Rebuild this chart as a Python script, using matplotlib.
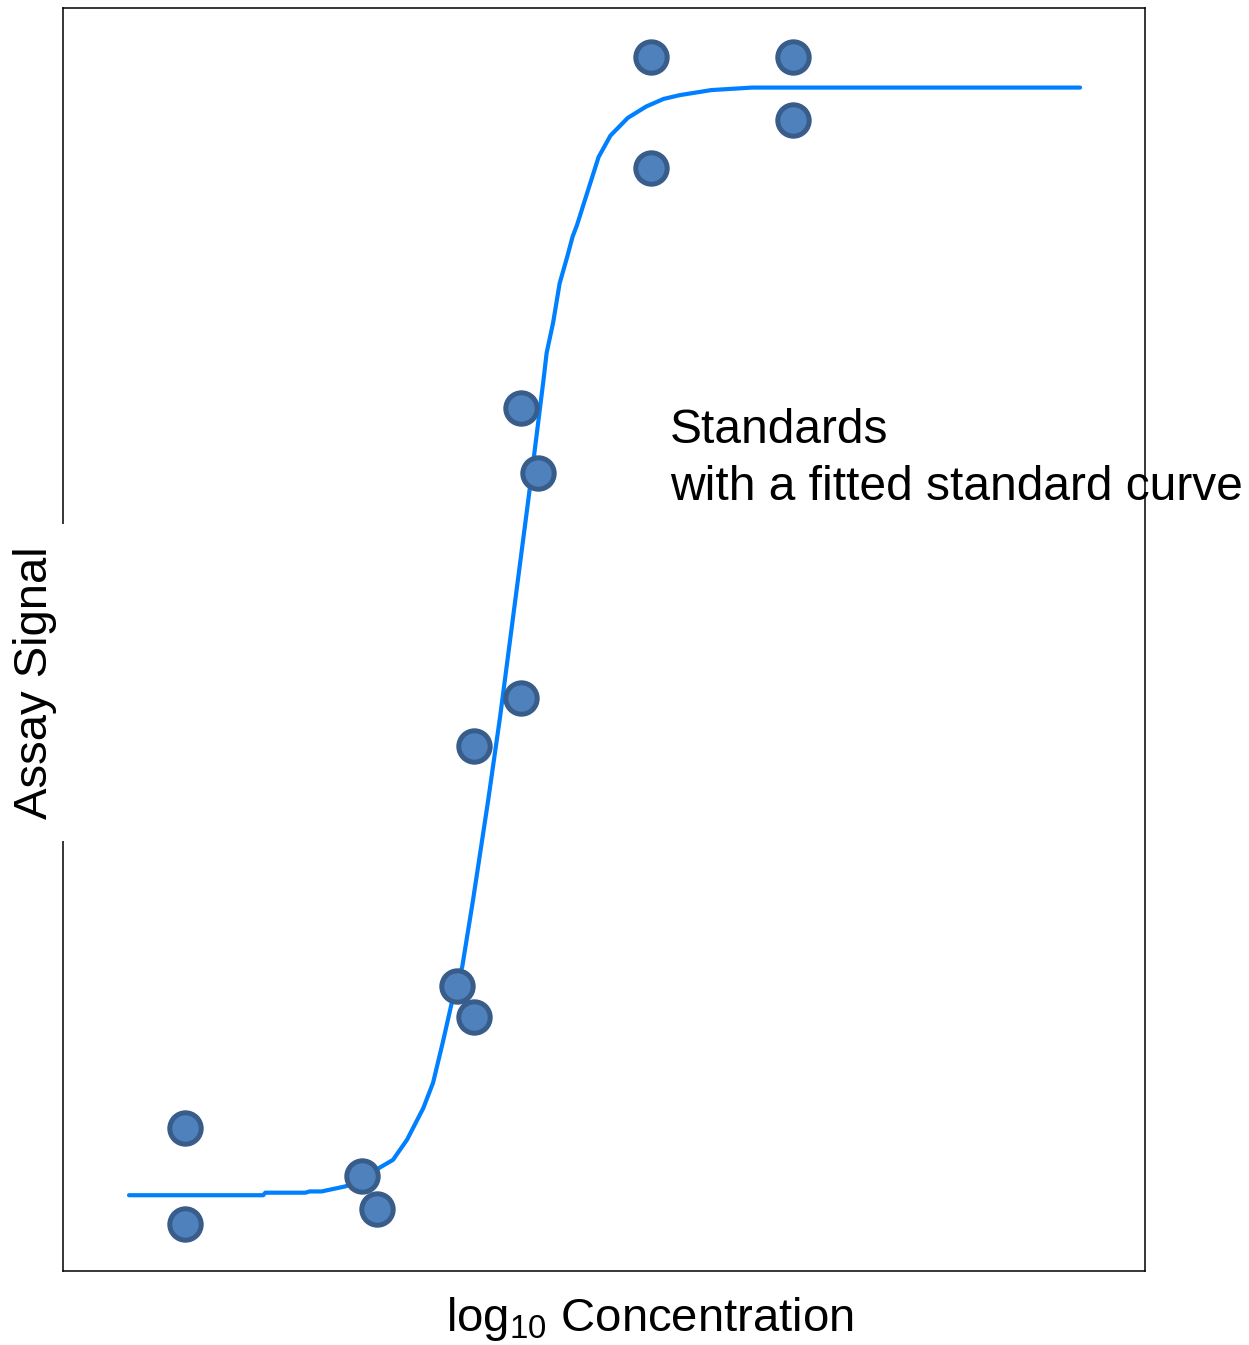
import matplotlib
matplotlib.use("Agg")
import matplotlib.pyplot as plt

plt.rcParams['font.family'] = ['Liberation Sans', 'DejaVu Sans']
plt.rcParams['mathtext.fontset'] = 'custom'
plt.rcParams['mathtext.rm'] = 'Liberation Sans'
plt.rcParams['mathtext.default'] = 'regular'

# standards (log10 concentration, signal) in arbitrary units
std_x = [1.13, 1.13, 2.76, 2.90, 3.64, 3.80, 3.80, 4.23, 4.23, 4.39, 5.43, 5.43, 6.75, 6.75]
std_y = [1.13, 0.37, 0.75, 0.49, 2.26, 2.01, 4.16, 4.54, 6.83, 6.32, 9.61, 8.73, 9.61, 9.11]

# fitted standard curve
fit_x = [0.61, 1.85, 1.87, 2.24, 2.28, 2.39, 2.61, 2.76, 2.93, 3.05, 3.18, 3.33, 3.42,
         3.51, 3.60, 3.69, 3.79, 3.93, 4.04, 4.16, 4.28, 4.36, 4.44, 4.47, 4.53, 4.59,
         4.66, 4.71, 4.75, 4.82, 4.95, 5.06, 5.22, 5.39, 5.55, 5.70, 5.99, 6.37, 9.40]
fit_y = [0.60, 0.60, 0.62, 0.62, 0.63, 0.63, 0.67, 0.72, 0.82, 0.88, 1.04, 1.29, 1.49,
         1.81, 2.15, 2.41, 2.94, 3.73, 4.39, 5.18, 5.97, 6.50, 7.05, 7.27, 7.51, 7.82,
         8.03, 8.19, 8.28, 8.47, 8.82, 8.99, 9.13, 9.22, 9.28, 9.31, 9.35, 9.37, 9.37]

fig = plt.figure(figsize=(12.49, 13.45), dpi=100)
ax = fig.add_axes([63/1249, 74/1345, 1082/1249, 1263/1345])

ax.plot(fit_x, fit_y, color='#0080FF', lw=3.0, solid_capstyle='round', zorder=2)
ax.plot(std_x, std_y, 'o', ms=22.6, mfc='#4F81BD', mec='#385D8A', mew=3.6,
        ls='none', zorder=3, clip_on=False)

ax.set_xlim(0, 10)
ax.set_ylim(0, 10)
ax.set_xticks([])
ax.set_yticks([])
for s in ax.spines.values():
    s.set_linewidth(1.1)

# baseline of the last line sits at the anchor
ax.text(5.61, 6.105, "Standards\nwith a fitted standard curve", fontsize=34.5,
        ha='left', va='baseline', linespacing=1.35, zorder=2, clip_on=False)

ax.text(-0.0259, 0.466, "Assay Signal", fontsize=34, rotation=90,
        ha='center', va='center', transform=ax.transAxes, zorder=10,
        bbox=dict(facecolor='white', edgecolor='none', pad=16), clip_on=False)

ax.text(0.5425, -0.0475, r"log$_{10}$ Concentration", fontsize=34,
        ha='center', va='baseline', transform=ax.transAxes, clip_on=False)

fig.savefig("out.png", dpi=100)
